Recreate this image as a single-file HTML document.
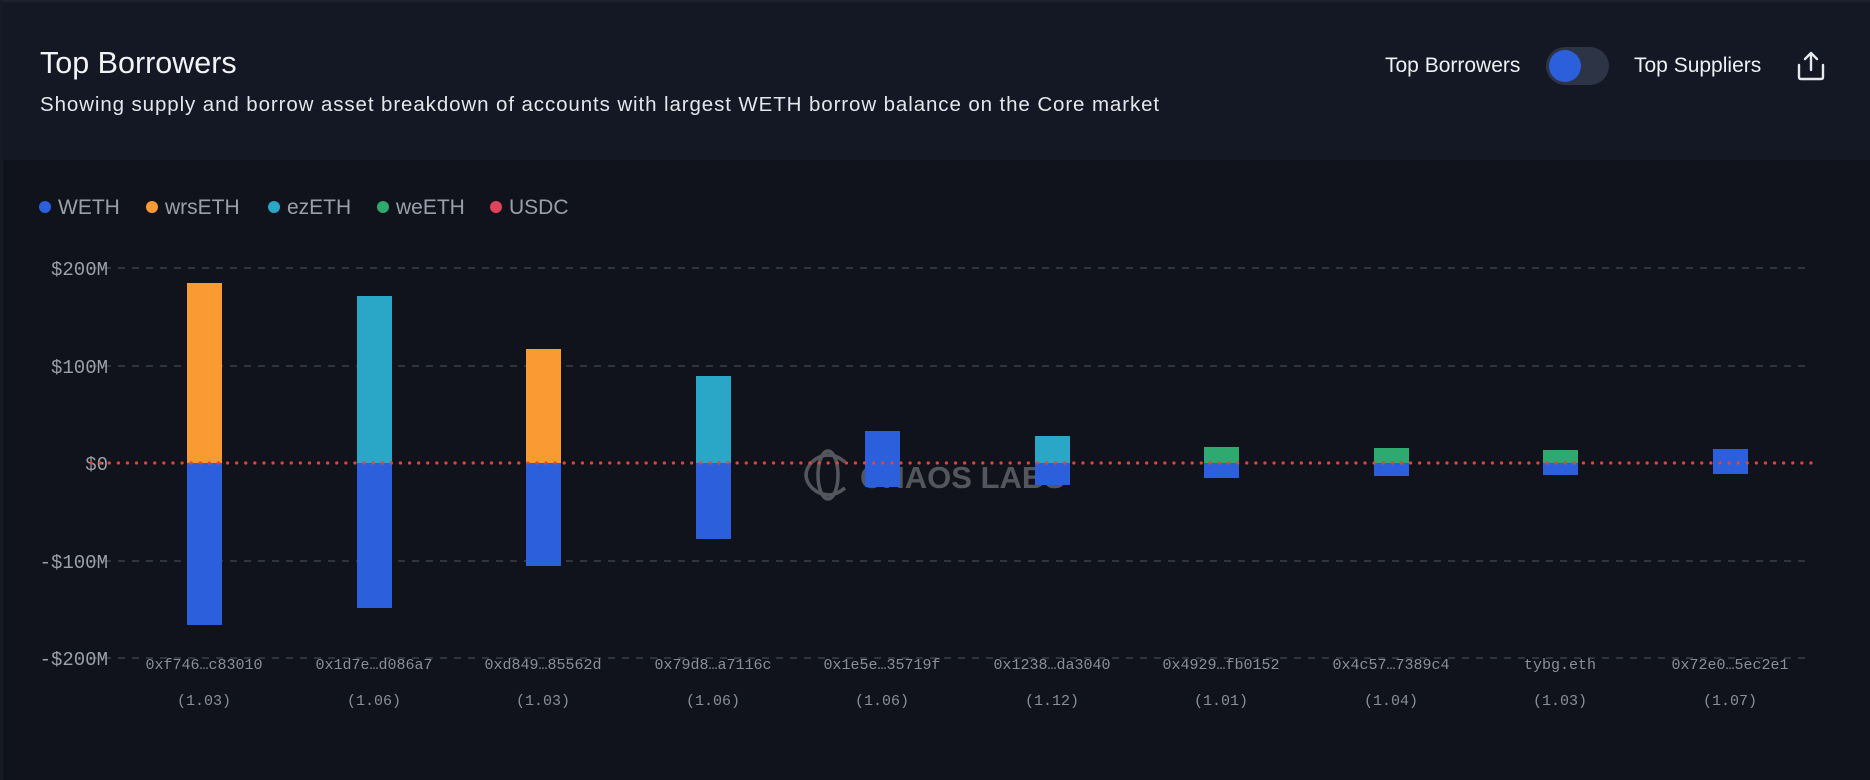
<!DOCTYPE html>
<html><head><meta charset="utf-8"><style>
html,body{margin:0;padding:0;background:#10131c;}
body{width:1870px;height:780px;position:relative;overflow:hidden;font-family:"Liberation Sans",sans-serif;}
.hdr{position:absolute;left:0;top:0;width:1870px;height:160px;background:#141824;border-top:2px solid #1d212b;box-sizing:border-box;}
.lb{position:absolute;left:0;top:0;width:3px;height:780px;background:#161a24;}
.t{position:absolute;left:40px;top:46px;font-size:30.5px;color:#f2f3f5;}
.s{position:absolute;left:40px;top:93px;font-size:20.5px;letter-spacing:0.9px;color:#e4e6ea;}
.r{position:absolute;font-size:21px;color:#eef0f3;top:54px;}
.tog{position:absolute;left:1546px;top:47px;width:63px;height:38px;border-radius:19px;background:#2c3446;}
.knob{position:absolute;left:3px;top:3px;width:32px;height:32px;border-radius:50%;background:#2b5fdc;}
</style></head><body>
<div class="hdr"></div><div class="lb"></div>
<div class="t">Top Borrowers</div>
<div class="s">Showing supply and borrow asset breakdown of accounts with largest WETH borrow balance on the Core market</div>
<div class="r" style="left:1385px">Top Borrowers</div>
<div class="tog"><div class="knob"></div></div>
<div class="r" style="left:1634px">Top Suppliers</div>
<svg style="position:absolute;left:1796px;top:50px" width="30" height="32" viewBox="0 0 30 32"><path d="M15 3V20M9 9L15 3L21 9" stroke="#e6e8ec" stroke-width="2.4" fill="none" stroke-linecap="round" stroke-linejoin="round"/><path d="M3 15V27Q3 29 5 29H25Q27 29 27 27V15" stroke="#e6e8ec" stroke-width="2.4" fill="none" stroke-linecap="round"/></svg>
<svg width="1870" height="780" style="position:absolute;left:0;top:0" font-family="Liberation Sans, sans-serif">
<g font-size="21" fill="#9aa0aa">
<circle cx="45" cy="207" r="6" fill="#2b5fdc"/><text x="58" y="214">WETH</text>
<circle cx="152" cy="207" r="6" fill="#f99b32"/><text x="165" y="214">wrsETH</text>
<circle cx="274" cy="207" r="6" fill="#2aa7c6"/><text x="287" y="214">ezETH</text>
<circle cx="383" cy="207" r="6" fill="#2eaa6e"/><text x="396" y="214">weETH</text>
<circle cx="496" cy="207" r="6" fill="#e0435c"/><text x="509" y="214">USDC</text>
</g>
<g stroke="#3b3f48" stroke-width="1.5" stroke-dasharray="7,7">
<line x1="90" y1="268" x2="1812" y2="268"/><line x1="90" y1="366" x2="1812" y2="366"/>
<line x1="90" y1="561" x2="1812" y2="561"/><line x1="90" y1="658" x2="1812" y2="658"/>
</g>
<g font-family="Liberation Mono, monospace" font-size="19" fill="#9ca0a8" text-anchor="end">
<text x="108" y="275">$200M</text><text x="108" y="373">$100M</text><text x="108" y="470">$0</text>
<text x="108" y="568">-$100M</text><text x="108" y="665">-$200M</text>
</g>
<g opacity="0.9">
<g fill="none" stroke="#5b5e64" stroke-width="3.5"><ellipse cx="828" cy="475" rx="10" ry="24"/><path d="M845 462Q828 448 812 462Q800 475 812 488Q828 502 845 488"/></g>
<text x="860" y="488" font-size="31" font-weight="bold" fill="#5b5e64">CHAOS LABS</text>
</g>
<g stroke-width="1">
<rect x="187" y="283" width="35" height="180" fill="#f99b32"/><rect x="187" y="463" width="35" height="162" fill="#2b5fdc"/>
<rect x="357" y="296" width="35" height="167" fill="#2aa7c6"/><rect x="357" y="463" width="35" height="145" fill="#2b5fdc"/>
<rect x="526" y="349" width="35" height="114" fill="#f99b32"/><rect x="526" y="463" width="35" height="103" fill="#2b5fdc"/>
<rect x="696" y="376" width="35" height="87" fill="#2aa7c6"/><rect x="696" y="463" width="35" height="76" fill="#2b5fdc"/>
<rect x="865" y="431" width="35" height="56" fill="#2b5fdc"/>
<rect x="1035" y="436" width="35" height="27" fill="#2aa7c6"/><rect x="1035" y="463" width="35" height="22" fill="#2b5fdc"/>
<rect x="1204" y="447" width="35" height="16" fill="#2eaa6e"/><rect x="1204" y="463" width="35" height="15" fill="#2b5fdc"/>
<rect x="1374" y="448" width="35" height="15" fill="#2eaa6e"/><rect x="1374" y="463" width="35" height="13" fill="#2b5fdc"/>
<rect x="1543" y="450" width="35" height="13" fill="#2eaa6e"/><rect x="1543" y="463" width="35" height="12" fill="#2b5fdc"/>
<rect x="1713" y="449" width="35" height="25" fill="#2b5fdc"/>
</g>
<line x1="91" y1="463" x2="1816" y2="463" stroke="#e0443a" stroke-width="3.2" stroke-dasharray="0.1,9" stroke-linecap="round"/>
<g font-family="Liberation Mono, monospace" font-size="15" fill="#8a8f98" text-anchor="middle">
<text x="204" y="669">0xf746…c83010</text><text x="374" y="669">0x1d7e…d086a7</text>
<text x="543" y="669">0xd849…85562d</text><text x="713" y="669">0x79d8…a7116c</text>
<text x="882" y="669">0x1e5e…35719f</text><text x="1052" y="669">0x1238…da3040</text>
<text x="1221" y="669">0x4929…fb0152</text><text x="1391" y="669">0x4c57…7389c4</text>
<text x="1560" y="669">tybg.eth</text><text x="1730" y="669">0x72e0…5ec2e1</text>
<text x="204" y="705">(1.03)</text><text x="374" y="705">(1.06)</text><text x="543" y="705">(1.03)</text>
<text x="713" y="705">(1.06)</text><text x="882" y="705">(1.06)</text><text x="1052" y="705">(1.12)</text>
<text x="1221" y="705">(1.01)</text><text x="1391" y="705">(1.04)</text><text x="1560" y="705">(1.03)</text>
<text x="1730" y="705">(1.07)</text>
</g>
</svg>
</body></html>
